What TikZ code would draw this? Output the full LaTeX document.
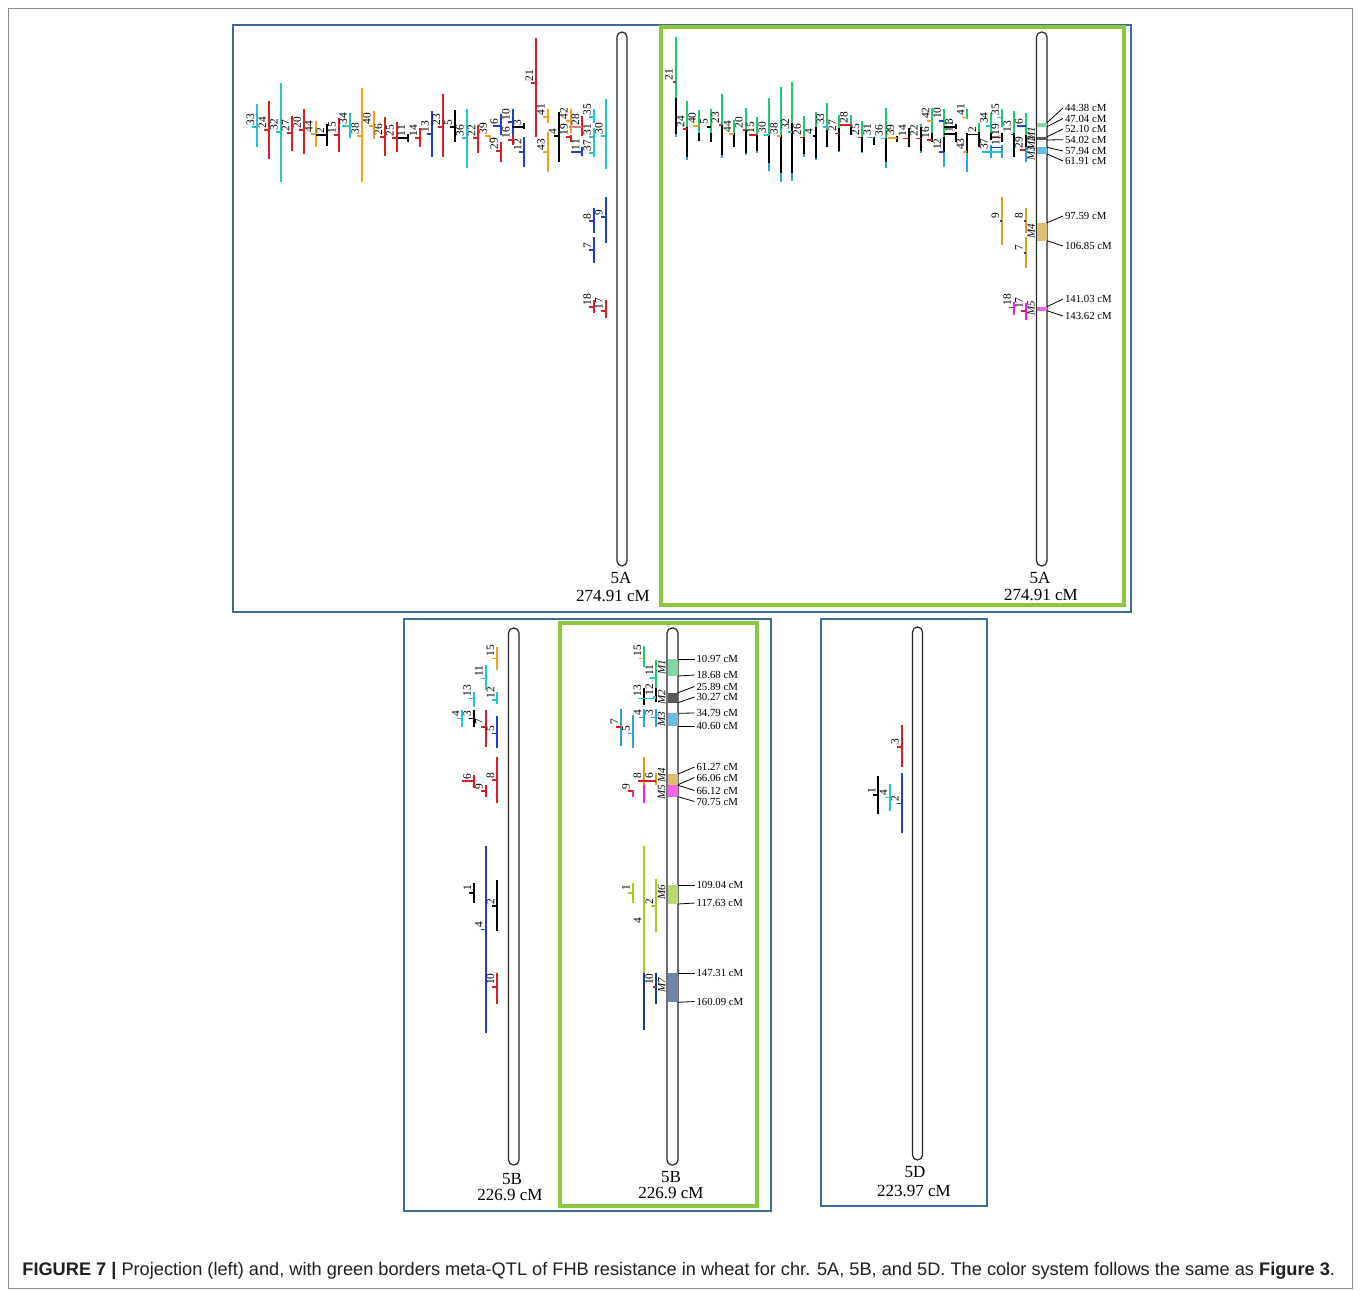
\documentclass[tikz,border=0pt]{standalone}
\usepackage{fontspec}
\setmainfont{Liberation Serif}
\newfontfamily\capfont{Liberation Sans}
\definecolor{ccyan}{HTML}{1FC9C9}
\definecolor{cred}{HTML}{D71F26}
\definecolor{corange}{HTML}{F5A21B}
\definecolor{cblue}{HTML}{1E3FCB}
\definecolor{cgreen}{HTML}{22C772}
\definecolor{cltblue}{HTML}{2AA3DB}
\definecolor{cgold}{HTML}{D6A220}
\definecolor{cmag}{HTML}{F01EE3}
\definecolor{cyg}{HTML}{A6CE1A}
\definecolor{cnavy}{HTML}{1B3B86}
\definecolor{bMa}{HTML}{7ED8A6}
\definecolor{bMb}{HTML}{595959}
\definecolor{bMc}{HTML}{6DBDE0}
\definecolor{bMd}{HTML}{DDBF74}
\definecolor{bMe}{HTML}{F266E8}
\definecolor{bMf}{HTML}{B9DA70}
\definecolor{bMg}{HTML}{6E85A7}
\definecolor{fblue}{HTML}{3F6B97}
\definecolor{fgreen}{HTML}{8DC63F}
\definecolor{captxt}{HTML}{231F20}
\tikzset{
  bar/.style={line width=1pt},
  tk/.style={line width=0.8pt},
  lab/.style={rotate=90,anchor=south west,inner sep=0.3pt,font=\fontsize{5.7}{6}\selectfont},
  mlab/.style={rotate=90,anchor=south,inner sep=0.3pt,font=\fontsize{5.5}{6}\selectfont\itshape},
  val/.style={anchor=west,inner sep=0.3pt,font=\fontsize{5.4}{6}\selectfont},
  leader/.style={line width=0.4pt,black},
  chrom/.style={draw=black!85,line width=0.6pt,rounded corners=2.5pt,fill=white},
  bluebox/.style={draw=fblue,line width=1pt},
  greenbox/.style={draw=fgreen,line width=1.6pt},
  chrlab/.style={font=\fontsize{8.5}{9}\selectfont,inner sep=0pt}
}
% simple QTL: x ytop ybot peak color label
\newcommand\qL[6]{%
  \draw[bar,#5] (#1,#2) -- (#1,#3);
  \draw[tk,#5] ({#1-5},#4) -- (#1,#4);
  \node[lab] at ({#1-2},{#4-1}) {#6};}
% tick only: x y color label length
\newcommand\tk[5]{%
  \draw[tk,#3] ({#1-#5},#2) -- (#1,#2);
  \node[lab] at ({#1-2},{#2-1}) {#4};}
% three-part bar: x top g k bottom
\newcommand\seg[5]{%
  \draw[bar,cgreen] (#1,#2) -- (#1,#3);
  \draw[bar,black] (#1,#3) -- (#1,#4);
  \draw[bar,cltblue] (#1,#4) -- (#1,#5);}
% vertical line piece: x y1 y2 color
\newcommand\vl[4]{\draw[bar,#4] (#1,#2) -- (#1,#3);}
\begin{document}
\begin{tikzpicture}[x=0.5pt,y=-0.5pt]
\useasboundingbox (0,0) rectangle (1360,1290);
\fill[white] (0,0) rectangle (1360,1290);
\draw[black!45,line width=0.5pt] (8,8) rectangle (1352,1288);

% ---------- frames ----------
\draw[bluebox] (233,25) rectangle (1131,612);
\draw[greenbox] (661,27) rectangle (1124,605);
\draw[bluebox] (404,619) rectangle (771,1211);
\draw[greenbox] (560,623) rectangle (757,1206);
\draw[bluebox] (821,619) rectangle (987,1206);

% ---------- 5A projection ----------
\draw[chrom] (617,32) rectangle (627,566);
\node[chrlab] (a5L) at (621,578) {5A};
\node[chrlab] (a5Lc) at (613,596) {274.91 cM};
\qL{257.3}{104}{147}{127}{ccyan}{33}
\qL{269}{101}{159}{130}{cred}{24}
\qL{280.7}{83}{182}{132}{ccyan}{32}
\qL{292.3}{116}{151}{133}{cred}{27}
\qL{304}{109}{154}{130}{cred}{20}
\qL{315.7}{121}{147}{134}{corange}{44}
\vl{327}{124}{146}{black}\tk{327}{135}{black}{2}{11}
\qL{338.7}{118}{152}{135}{cred}{15}
\vl{350}{113}{138}{ccyan}\tk{350}{126}{ccyan}{34}{8}
\qL{362}{88}{182}{136}{corange}{38}
\qL{373.7}{111}{139}{126}{corange}{40}
\qL{385.3}{117}{156}{137}{cred}{26}
\qL{396.7}{122}{152}{138}{cred}{25}
\vl{408}{134}{142}{black}\tk{408}{138}{black}{11}{10}
\qL{420}{128}{147}{138}{cred}{14}
\qL{431.7}{111}{157}{134}{cblue}{13}
\qL{443.3}{94}{157}{127}{cred}{23}
\qL{455}{110}{142}{127}{black}{5}
\qL{466.7}{109}{168}{138}{ccyan}{36}
\qL{478.3}{125}{153}{138}{cred}{22}
\qL{490}{135}{142}{136}{corange}{39}
\qL{501}{142}{162}{151}{cred}{29}
\vl{501}{114}{135}{cblue}\tk{501}{126}{cblue}{6}{8}
\qL{512.7}{109}{135}{122}{cblue}{10}
\qL{512.7}{135}{145}{140}{cred}{16}
\vl{524.3}{123}{129}{black}\tk{524.3}{127}{black}{3}{12}
\qL{524.3}{137}{167}{152}{cblue}{12}
\qL{536}{38}{137}{83}{cred}{21}
\qL{547.7}{109}{123}{117}{corange}{41}
\qL{547.7}{132}{172}{152}{corange}{43}
\qL{559.3}{112}{162}{136}{black}{4}
\qL{570.7}{109}{133}{121}{corange}{42}
\qL{570.7}{135}{142}{137}{cred}{19}
\vl{582.3}{116}{136}{cred}\tk{582.3}{127}{cred!60}{28}{13}
\vl{582.3}{147}{156}{cblue}\tk{582.3}{152}{cblue}{11}{11}
\qL{594}{128}{143}{137}{ccyan}{31}
\qL{594}{143}{157}{153}{ccyan}{37}
\qL{594}{109}{123}{117}{ccyan}{35}
\qL{605.7}{99}{169}{136}{ccyan}{30}
\qL{594}{208}{233}{221}{cblue}{8}
\qL{605.7}{197}{243}{217}{cblue}{9}
\qL{594}{237}{263}{250}{cblue}{7}
\qL{594}{300}{313}{307}{cred}{18}
\qL{605.7}{300}{318}{311}{cred}{17}

% ---------- 5A meta-QTL ----------
\seg{675.7}{37}{98}{134}{137}\tk{675.7}{82}{cred}{21}{3}
\seg{687.3}{100.7}{126.7}{156.7}{160}\tk{687.3}{129}{cred}{24}{4}
\seg{699}{110}{133.3}{140.7}{140.7}\tk{699}{125.7}{corange}{40}{6}
\seg{710.7}{109}{132.7}{142.3}{142.3}\tk{710.7}{126.7}{black}{5}{4}
\seg{722.3}{94}{125}{155}{157.7}\tk{722.3}{125}{cred}{23}{3}
\seg{734}{120}{133.3}{147.3}{147.3}\tk{734}{134}{corange}{44}{5}
\seg{745.7}{108.3}{130}{152.7}{155}\tk{745.7}{130}{cred}{20}{3}
\seg{757.3}{117.3}{135}{150.7}{153.3}\tk{757.3}{135}{cred}{15}{8}
\seg{769}{98}{135}{163.3}{170.7}\tk{769}{135}{ccyan}{30}{5}
\seg{780.7}{87}{135}{172.7}{181.7}\tk{780.7}{136}{corange}{38}{4}
\seg{792.3}{82}{122.7}{172.7}{181}\tk{792.3}{131.7}{ccyan}{32}{4}
\seg{804}{116}{137.3}{154}{157.3}\tk{804}{137.3}{cred}{26}{4}
\seg{815.7}{111.7}{126.7}{157.7}{160}\tk{815.7}{136}{black}{4}{3}
\seg{827.3}{103.3}{130}{146.7}{146.7}\tk{827.3}{126.7}{ccyan}{33}{4}
\seg{839}{115}{128.3}{150.7}{152.3}\tk{839}{133.3}{cred}{27}{4}
\seg{850.7}{115}{126.7}{135}{135}\tk{850.7}{125}{cred}{28}{11}
\seg{862.3}{120.7}{136.7}{151.7}{152.7}\tk{862.3}{137.3}{cred}{25}{4}
\vl{874}{137.3}{145}{black}\tk{874}{137.3}{ccyan}{31}{7}
\seg{885.7}{108.3}{138.3}{161.7}{168.3}\tk{885.7}{138.3}{ccyan}{36}{5}
\vl{897.3}{136}{141.7}{black}\tk{897.3}{137.7}{corange}{39}{9}
\vl{909}{127.7}{147.3}{black}\tk{909}{138.3}{cred}{14}{6}
\seg{920.7}{124.3}{127}{150.7}{153.3}\tk{920.7}{138.3}{cred}{22}{5}
\seg{932.3}{108.3}{133.3}{141.7}{141.7}\tk{932.3}{140}{cred}{16}{5}\tk{932.3}{120.7}{corange}{42}{5}
\seg{944}{109}{136.7}{151.7}{166.7}\tk{944}{120.7}{cblue}{10}{5}\tk{944}{151.7}{cblue}{12}{5}
\vl{955.7}{124}{129}{black}\tk{955.7}{126.7}{black}{3}{11.7}
\vl{955.7}{131.7}{141.7}{black}\tk{955.7}{134}{black}{11}{11.7}
\vl{967.3}{109.3}{119.3}{cgreen}\tk{967.3}{117.3}{corange}{41}{5}
\vl{967.3}{133.3}{152.7}{black}\vl{967.3}{152.7}{171.7}{cltblue}\tk{967.3}{151.7}{corange}{43}{4}
\vl{979}{123.3}{131.7}{cgreen}\vl{979}{131.7}{147.3}{black}\tk{979}{134.3}{black}{2}{11.7}
\vl{990.7}{113.3}{133.3}{cgreen}\vl{990.7}{133.3}{140}{black}\tk{990.7}{125.7}{ccyan}{34}{5}
\vl{990.7}{145}{158.3}{cltblue}
\draw[tk,ccyan] (982,151.7) -- (1002.3,151.7);
\node[lab] at (988.7,150.7) {37};
\vl{1002.3}{109}{126.7}{cgreen}\tk{1002.3}{117.3}{ccyan}{35}{5}
\vl{1002.3}{133.3}{141.7}{black}\tk{1002.3}{137.3}{cred}{19}{9}
\vl{1002.3}{145}{158.3}{cltblue}\tk{1002.3}{147.3}{cblue}{11}{11.6}
\vl{1014}{110.7}{133.3}{cgreen}\vl{1014}{133.3}{156.7}{black}\tk{1014}{134.3}{cblue}{13}{3}
\seg{1025.7}{113.3}{135}{147.3}{161.7}\tk{1025.7}{126}{cblue}{6}{9}\tk{1025.7}{150}{cred}{29}{6}
\vl{1002.3}{196.7}{245}{cgold}\tk{1002.3}{220.7}{cblue}{9}{2}
\vl{1025.7}{208}{233}{cgold}\tk{1025.7}{220.7}{cblue}{8}{2}
\vl{1025.7}{236.7}{268.3}{cgold}\tk{1025.7}{252.7}{cblue}{7}{2}
\vl{1014}{301.7}{315}{cmag}\tk{1014}{307.3}{cred}{18}{5}
\vl{1025.7}{303}{320}{cmag}\tk{1025.7}{310.7}{cred}{17}{5}

\draw[chrom] (1036.5,32) rectangle (1047,566);
\fill[bMa] (1037,122.7) rectangle (1046.5,126.7);
\fill[bMb] (1037,136.7) rectangle (1046.5,140);
\fill[bMc] (1037,147.3) rectangle (1046.5,154);
\fill[bMd] (1037,222.7) rectangle (1046.5,240.7);
\fill[bMe] (1037,306.7) rectangle (1046.5,310.7);
\node[mlab] at (1035.8,134.5) {M1};
\node[mlab] at (1035.8,143.5) {M2};
\node[mlab] at (1035.8,153) {M3};
\node[mlab] at (1035.8,231) {M4};
\node[mlab] at (1035.8,308) {M5};
\node[chrlab] (a5R) at (1040,578) {5A};
\node[chrlab] (a5Rc) at (1041,595) {274.91 cM};
\foreach \yb/\yt/\txt in {122.7/108/44.38,126.7/118.5/47.04,136.7/129/52.10,140/139.7/54.02,147.3/151/57.94,154/161/61.91,222.7/216/97.59,240.7/246/106.85,306.7/299/141.03,310.7/316/143.62}{
  \draw[leader] (1047,\yb) -- (1063,\yt);
  \node[val] at (1064,\yt) {\txt{} cM};
}

% ---------- 5B projection ----------
\draw[chrom] (508.5,628) rectangle (519,1165);
\node[chrlab] (b5L) at (512,1179) {5B};
\node[chrlab] (b5Lc) at (510,1195) {226.9 cM};
\qL{497.3}{647.3}{670}{658.3}{corange}{15}
\qL{485.7}{665}{690}{678.3}{ccyan}{11}
\qL{497.3}{691.7}{704}{700}{ccyan}{12}
\qL{474}{691.7}{707.3}{698.3}{ccyan}{13}
\qL{462.3}{710}{726.7}{718.3}{ccyan}{4}
\qL{474}{710}{726.7}{718.3}{black}{3}
\qL{485.7}{710}{746.7}{726.7}{cred}{7}
\qL{497.3}{716}{748.3}{733.3}{cblue}{5}
\vl{474}{775}{788.3}{cred}\tk{474}{781}{cred}{6}{12}
\qL{485.7}{785}{796.7}{791}{cred}{9}
\qL{497.3}{757.3}{803.3}{780}{cred}{8}
\qL{485.7}{846}{1033.3}{929.3}{cblue}{4}
\qL{474}{882.7}{902.7}{892.7}{black}{1}
\qL{497.3}{880}{930.7}{906}{black}{2}
\qL{497.3}{972.7}{1004}{986.7}{cred}{10}

% ---------- 5B meta-QTL ----------
\vl{644.3}{646}{666.7}{cgreen}\tk{644.3}{658.3}{corange}{15}{5}
\vl{656}{660}{688}{cgreen}\tk{656}{677.7}{ccyan}{11}{6}
\vl{656}{688}{702}{black}\tk{656}{697}{ccyan}{12}{3}
\vl{644.3}{688}{705}{black}
\draw[tk,ccyan] (638,698.3) -- (656,698.3);
\node[lab] at (642.3,697.3) {13};
\vl{644.3}{709}{726.7}{cltblue}\tk{644.3}{717.3}{cltblue}{4}{5}
\vl{656}{709}{726.7}{cltblue}\tk{656}{717.3}{cltblue}{3}{5}
\vl{621}{709}{746}{cltblue}\tk{621}{726.7}{cred}{7}{5}
\vl{632.7}{715}{748.3}{cltblue}\tk{632.7}{733.3}{cltblue}{5}{5}
\vl{644.3}{756.7}{785}{cgold}\vl{644.3}{785}{803.3}{cmag}
\vl{656}{773}{785}{cgold}
\draw[tk,cred] (638,780.7) -- (656,780.7);
\node[lab] at (642.3,779.7) {8};
\node[lab] at (654,779.7) {6};
\vl{632.7}{790}{796.7}{cmag}\tk{632.7}{791}{cred}{9}{5}
\vl{632.7}{882.7}{902.7}{cyg}\tk{632.7}{892.7}{cyg}{1}{5}
\vl{656}{879.3}{931.7}{cyg}\tk{656}{906}{cyg}{2}{5}
\vl{644.3}{846}{973.3}{cyg}\vl{644.3}{973.3}{1030}{cnavy}
\node[lab] at (642.3,924) {4};
\vl{656}{972.7}{1004}{cnavy}\tk{656}{986.7}{cred}{10}{3}

\draw[chrom] (667,628) rectangle (678,1165);
\fill[bMa] (667.5,659) rectangle (677.5,676);
\fill[bMb] (667.5,692.7) rectangle (677.5,702.7);
\fill[bMc] (667.5,713.3) rectangle (677.5,726);
\fill[bMd] (667.5,774) rectangle (677.5,784.7);
\fill[bMe] (667.5,785.3) rectangle (677.5,796.7);
\fill[bMf] (667.5,885) rectangle (677.5,904);
\fill[bMg] (667.5,973.3) rectangle (677.5,1002.3);
\node[mlab] at (666.3,667) {M1};
\node[mlab] at (666.3,697) {M2};
\node[mlab] at (666.3,719.5) {M3};
\node[mlab] at (666.3,775.5) {M4};
\node[mlab] at (666.3,792) {M5};
\node[mlab] at (666.3,892) {M6};
\node[mlab] at (666.3,985) {M7};
\node[chrlab] (b5R) at (671,1177) {5B};
\node[chrlab] (b5Rc) at (671,1193) {226.9 cM};
\foreach \yb/\yt/\txt in {659/659/10.97,676/675/18.68,692.7/686.5/25.89,702.7/697/30.27,713.3/713/34.79,726/726/40.60,774/767/61.27,784.7/777.5/66.06,785.3/790.5/66.12,796.7/801.5/70.75,885/885/109.04,904/903/117.63,973.3/973.3/147.31,1002.3/1001.5/160.09}{
  \draw[leader] (678,\yb) -- (694.5,\yt);
  \node[val] at (695.5,\yt) {\txt{} cM};
}

% ---------- 5D ----------
\qL{901.7}{725}{766.7}{746.7}{cred}{3}
\qL{878.3}{776}{814.3}{795}{black}{1}
\qL{890}{784}{811}{797.3}{ccyan}{4}
\qL{901.7}{773.3}{832.7}{803.3}{cblue}{2}
\draw[chrom] (912.5,627) rectangle (922.5,1160);
\node[chrlab] (d5) at (915,1172) {5D};
\node[chrlab] (d5c) at (914,1191) {223.97 cM};

% ---------- caption ----------
\node[anchor=west,inner sep=0pt,text=captxt,font=\capfont\fontsize{9.1}{11}\selectfont] (cap) at (22,1271)
 {\textbf{FIGURE 7 |} Projection (left) and, with green borders meta-QTL of FHB resistance in wheat for chr. 5A, 5B, and 5D. The color system follows the same as \textbf{Figure 3}.};
\end{tikzpicture}
\end{document}
